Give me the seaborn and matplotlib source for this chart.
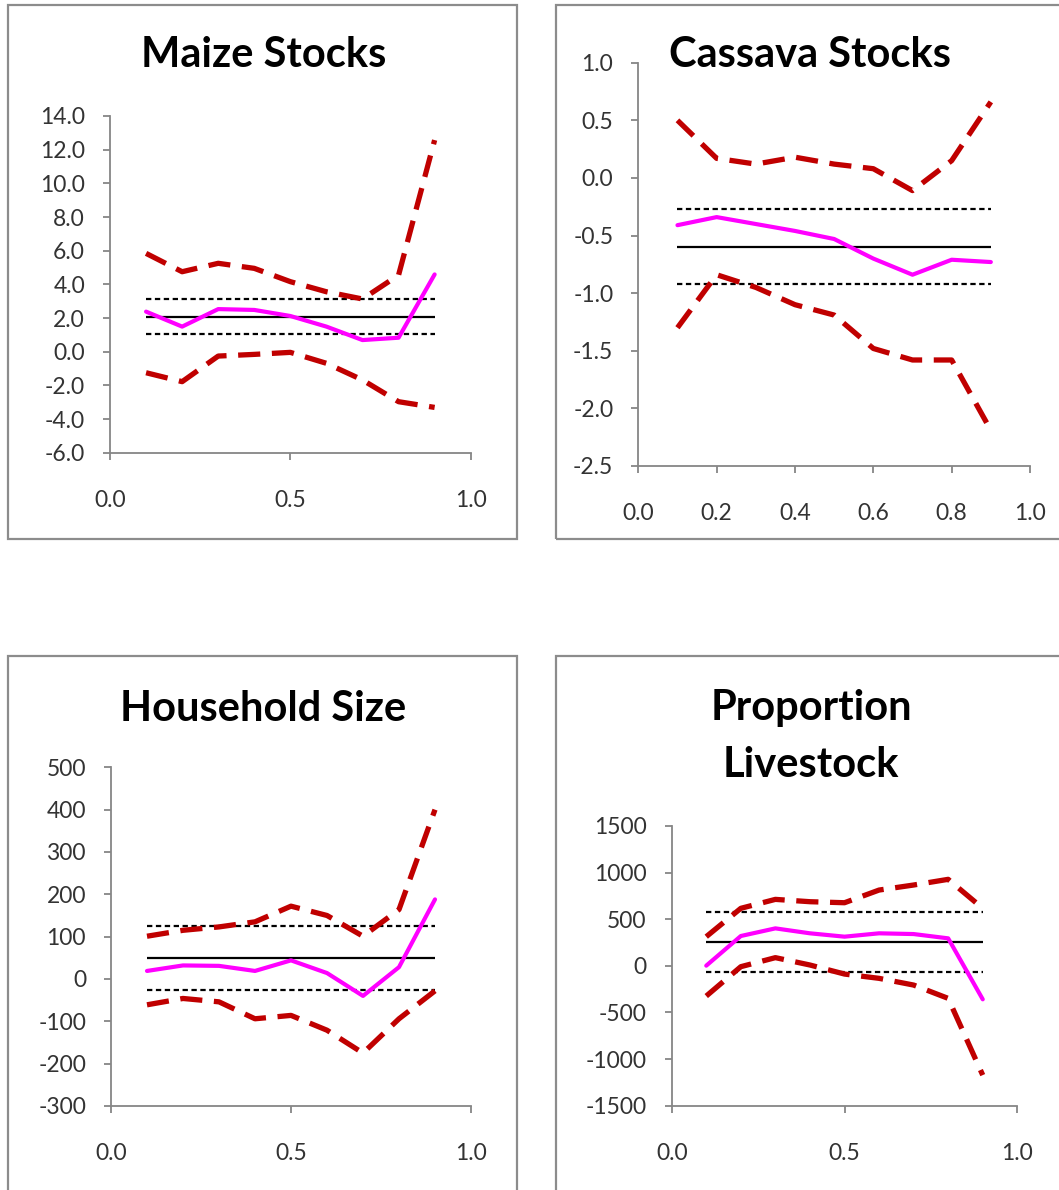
import numpy as np
import pandas as pd
import seaborn as sns
import matplotlib.pyplot as plt
from matplotlib.patches import Rectangle
from matplotlib.ticker import FixedLocator, FormatStrFormatter

# Quantile levels
quantiles = [0.1, 0.2, 0.3, 0.4, 0.5, 0.6, 0.7, 0.8, 0.9]

# Maize Stocks
maize_coef = [2.38, 1.49, 2.53, 2.48, 2.12, 1.49, 0.69, 0.83, 4.59]
maize_upper = [5.84, 4.75, 5.25, 4.95, 4.16, 3.56, 3.13, 4.55, 12.57]
maize_lower = [-1.25, -1.78, -0.26, -0.16, -0.04, -0.69, -1.68, -2.97, -3.31]
maize_ols = [2.04, 3.11, 1.05]  # estimate, upper, lower

# Cassava Stocks
cassava_coef = [-0.41, -0.34, -0.40, -0.46, -0.53, -0.70, -0.84, -0.71, -0.73]
cassava_upper = [0.50, 0.17, 0.12, 0.18, 0.12, 0.08, -0.11, 0.15, 0.66]
cassava_lower = [-1.30, -0.84, -0.95, -1.10, -1.19, -1.48, -1.58, -1.58, -2.19]
cassava_ols = [-0.60, -0.27, -0.92]

# Household Size
household_coef = [19, 32, 31, 19, 44, 14, -40, 28, 188]
household_upper = [101, 115, 123, 135, 172, 150, 101, 164, 400]
household_lower = [-61, -46, -54, -94, -86, -121, -175, -94, -28]
household_ols = [50, 125, -25]

# Proportion Livestock
livestock_coef = [2, 320, 402, 349, 313, 349, 341, 295, -359]
livestock_upper = [313, 617, 713, 688, 677, 813, 867, 928, 617]
livestock_lower = [-324, -9, 88, 9, -88, -134, -206, -349, -1172]
livestock_ols = [252, 581, -66]

W, H = 1059, 1190
sns.set_theme(style="white")
plt.rcParams["font.family"] = ["Lato", "DejaVu Sans"]

fig = plt.figure(figsize=(W / 100, H / 100), dpi=100)
fig.patch.set_facecolor("white")


def fx(px):
    return px / W


def fy(py):
    return 1 - py / H


# Panel frames
for x0, y0, x1, y1 in [(8, 5, 517, 539), (556, 5, 1070, 539),
                       (8, 656, 517, 1200), (556, 656, 1070, 1200)]:
    fig.patches.append(Rectangle((fx(x0), fy(y1)), fx(x1 - x0), (y1 - y0) / H,
                                 transform=fig.transFigure, fill=False,
                                 edgecolor="#8c8c8c", linewidth=1.6, zorder=0))

panels = [
    dict(title="Maize Stocks", coef=maize_coef, up=maize_upper, lo=maize_lower,
         ols=maize_ols, box=(110, 116, 470.7, 452.7), ylim=(-6, 14), ystep=2,
         yfmt="%.1f", xstep=0.5, title_xy=[(264, 67)]),
    dict(title="Cassava Stocks", coef=cassava_coef, up=cassava_upper, lo=cassava_lower,
         ols=cassava_ols, box=(638.3, 62.7, 1030, 466), ylim=(-2.5, 1.0), ystep=0.5,
         yfmt="%.1f", xstep=0.2, title_xy=[(810, 67)]),
    dict(title="Household Size", coef=household_coef, up=household_upper,
         lo=household_lower, ols=household_ols, box=(111, 767.3, 471, 1106),
         ylim=(-300, 500), ystep=100, yfmt="%.0f", xstep=0.5, title_xy=[(263, 721)]),
    dict(title="Proportion\nLivestock", coef=livestock_coef, up=livestock_upper,
         lo=livestock_lower, ols=livestock_ols, box=(671.7, 826, 1017.3, 1105.7),
         ylim=(-1500, 1500), ystep=500, yfmt="%.0f", xstep=0.5,
         title_xy=[(811, 720), (811, 777)]),
]

axis_grey = "#868686"
label_col = "#333333"

for p in panels:
    x0, y0, x1, y1 = p["box"]
    ax = fig.add_axes([fx(x0), fy(y1), fx(x1 - x0), (y1 - y0) / H])
    ax.set_facecolor("none")

    df = pd.DataFrame({"q": quantiles, "coef": p["coef"],
                       "upper": p["up"], "lower": p["lo"]})

    est, hi, lo = p["ols"]
    ax.hlines([hi, lo], quantiles[0], quantiles[-1], colors="black",
              linewidth=1.6, linestyles=[(0, (2.4, 1.6))], zorder=2)
    ax.hlines([est], quantiles[0], quantiles[-1], colors="black",
              linewidth=1.6, zorder=2)

    for col in ["upper", "lower"]:
        sns.lineplot(data=df, x="q", y=col, ax=ax, color="#c00000",
                     linewidth=3.8, linestyle=(0, (4.2, 2.2)), zorder=3)
    sns.lineplot(data=df, x="q", y="coef", ax=ax, color="#ff00ff",
                 linewidth=3.0, zorder=4)

    ax.set_xlim(0, 1)
    ax.set_ylim(*p["ylim"])
    ax.xaxis.set_major_locator(FixedLocator(np.arange(0, 1.0001, p["xstep"])))
    ax.xaxis.set_major_formatter(FormatStrFormatter("%.1f"))
    ymin, ymax = p["ylim"]
    ax.yaxis.set_major_locator(FixedLocator(np.arange(ymin, ymax + 1e-9, p["ystep"])))
    ax.yaxis.set_major_formatter(FormatStrFormatter(p["yfmt"]))
    ax.set_xlabel("")
    ax.set_ylabel("")

    for s in ["top", "right"]:
        ax.spines[s].set_visible(False)
    for s in ["left", "bottom"]:
        ax.spines[s].set_color(axis_grey)
        ax.spines[s].set_linewidth(1.3)
    ax.tick_params(axis="both", which="major", direction="out", length=5,
                   width=1.3, color=axis_grey, labelsize=16.5, labelcolor=label_col)
    ax.tick_params(axis="y", pad=13, left=True)
    ax.tick_params(axis="x", pad=22, bottom=True)

    lines = p["title"].split("\n")
    for text, (tx, ty) in zip(lines, p["title_xy"]):
        fig.text(fx(tx), fy(ty), text, ha="center", va="baseline",
                 fontsize=30, fontweight="bold", color="black")

fig.savefig("out.png", dpi=100, facecolor="white")
